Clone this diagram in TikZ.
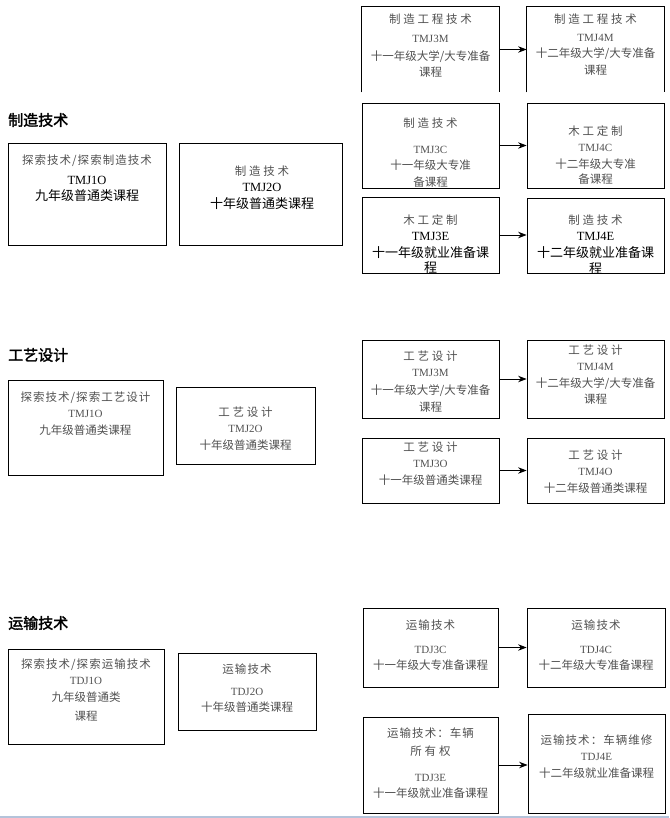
\documentclass[tikz,border=0pt]{standalone}
\usepackage{fontspec}
\usepackage{tikz}
\usetikzlibrary{arrows.meta}
\setmainfont{Noto Sans CJK SC}
\newfontfamily\codefont{Liberation Serif}
\newfontfamily\titlefont{Noto Sans CJK SC}[FakeBold=2]
\definecolor{textgray}{HTML}{505050}
\definecolor{edgeblue}{HTML}{B4C3DA}
\newcommand\spaced[1]{{\addfontfeature{LetterSpace=24}#1}}
\newcommand\semispaced[1]{{\addfontfeature{LetterSpace=9}#1}}
\newcommand\code[1]{{\codefont\fontsize{11}{16.5}\selectfont #1}}
\newcommand\bigcode[1]{{\color{black}\codefont\fontsize{12.5}{16.5}\selectfont #1}}
\newcommand\dark[1]{{\fontsize{13}{16.5}\selectfont\color{black}#1}}
\tikzset{
  course box/.style={draw=black,line width=.8pt,inner sep=0pt},
  box line/.style={draw=black,line width=.8pt},
  course text/.style={anchor=north,inner sep=0pt,align=center,text=textgray,
    font=\fontsize{11.5}{16.5}\selectfont},
  strand title/.style={anchor=west,inner sep=0pt,font=\titlefont\fontsize{15}{18}\selectfont},
  course arrow/.style={black,line width=.9pt,-{Stealth[length=8.5pt,width=6.5pt]}},
  page edge/.style={edgeblue,line width=1.2pt}
}
\begin{document}
\begin{tikzpicture}[x=1pt,y=-1pt]
  \useasboundingbox (0,0) rectangle (669,818);
  % manufacturing
  \node[strand title] (mfT) at (8,120) {制造技术};
  \node[course box,minimum width=158,minimum height=102] (mfA) at (87,194) {};
  \node[course text] (mfA-t) at (87,154.5) {\semispaced{探索技术/探索制造技术}\\[3.5pt] \bigcode{TMJ1O}\\ \dark{九年级普通类课程}};
  \node[course box,minimum width=163,minimum height=102] (mfB) at (260.5,194) {};
  \node[course text] (mfB-t) at (262,165.5) {\spaced{制造技术}\\ \bigcode{TMJ2O}\\ \dark{十年级普通类课程}};
  \node[course box,draw=none,minimum width=137,minimum height=85] (mf3m) at (430.5,49.5) {};
  \draw[box line] (mf3m.south west) |- (mf3m.north east) -- (mf3m.south east);
  \node[course text] (mf3m-t) at (430.5,13.5) {\spaced{制造工程技术}\\[2.5pt] \code{TMJ3M}\\[1.5pt] 十一年级大学/大专准备\\ 课程};
  \node[course box,draw=none,minimum width=137,minimum height=85] (mf4m) at (595.5,49.5) {};
  \draw[box line] (mf4m.south west) |- (mf4m.north east) -- (mf4m.south east);
  \node[course text] (mf4m-t) at (595.5,13.5) {\spaced{制造工程技术}\\[1.5pt] \code{TMJ4M}\\ 十二年级大学/大专准备\\ 课程};
  \node[course box,minimum width=137,minimum height=85] (mf3c) at (430.5,145.5) {};
  \node[course text] (mf3c-t) at (430.5,117.5) {\spaced{制造技术}\\[9.5pt] \code{TMJ3C}\\ 十一年级大专准\\ 备课程};
  \node[course box,minimum width=137,minimum height=85] (mf4c) at (595.5,145.5) {};
  \node[course text] (mf4c-t) at (595.5,125.5) {\spaced{木工定制}\\ \code{TMJ4C}\\ 十二年级大专准\\[-1.5pt] 备课程};
  \node[course box,minimum width=137,minimum height=76] (mf3e) at (430.5,235) {};
  \begin{scope}
    \clip (mf3e.south west) rectangle (mf3e.north east);
    \node[course text] (mf3e-t) at (430.5,214.5) {\spaced{木工定制}\\ \bigcode{TMJ3E}\\ \dark{十一年级就业准备课}\\[-1pt] \dark{程}};
  \end{scope}
  \node[course box,minimum width=137,minimum height=75] (mf4e) at (595.5,235.5) {};
  \begin{scope}
    \clip (mf4e.south west) rectangle (mf4e.north east);
    \node[course text] (mf4e-t) at (595.5,214.5) {\spaced{制造技术}\\ \bigcode{TMJ4E}\\ \dark{十二年级就业准备课}\\ \dark{程}};
  \end{scope}
  % craft design
  \node[strand title] (cdT) at (8,355) {工艺设计};
  \node[course box,minimum width=155,minimum height=95] (cdA) at (85.5,427.5) {};
  \node[course text] (cdA-t) at (85.5,391.5) {\semispaced{探索技术/探索工艺设计}\\ \code{TMJ1O}\\ 九年级普通类课程};
  \node[course box,minimum width=139,minimum height=77] (cdB) at (245.5,425.5) {};
  \node[course text] (cdB-t) at (245.5,406.5) {\spaced{工艺设计}\\ \code{TMJ2O}\\ 十年级普通类课程};
  \node[course box,minimum width=137,minimum height=78] (cd3m) at (430.5,379) {};
  \node[course text] (cd3m-t) at (430.5,350.5) {\spaced{工艺设计}\\ \code{TMJ3M}\\[1.5pt] 十一年级大学/大专准备\\ 课程};
  \node[course box,minimum width=137,minimum height=78] (cd4m) at (595.5,379) {};
  \node[course text] (cd4m-t) at (595.5,344.5) {\spaced{工艺设计}\\ \code{TMJ4M}\\ 十二年级大学/大专准备\\ 课程};
  \node[course box,minimum width=137,minimum height=65] (cd3o) at (430.5,470.5) {};
  \node[course text] (cd3o-t) at (430.5,441.5) {\spaced{工艺设计}\\ \code{TMJ3O}\\ 十一年级普通类课程};
  \node[course box,minimum width=137,minimum height=65] (cd4o) at (595.5,470.5) {};
  \node[course text] (cd4o-t) at (595.5,449.5) {\spaced{工艺设计}\\ \code{TMJ4O}\\ 十二年级普通类课程};
  % transportation
  \node[strand title] (ttT) at (8,623) {运输技术};
  \node[course box,minimum width=156,minimum height=95] (ttA) at (86,696.5) {};
  \node[course text] (ttA-t) at (86,658.5) {\semispaced{探索技术/探索运输技术}\\ \code{TDJ1O}\\ 九年级普通类\\[2.5pt] 课程};
  \node[course box,minimum width=138,minimum height=77] (ttB) at (247,691.5) {};
  \node[course text] (ttB-t) at (247,663.5) {\semispaced{运输技术}\\[5.5pt] \code{TDJ2O}\\ 十年级普通类课程};
  \node[course box,minimum width=135,minimum height=79] (tt3c) at (430.5,647.5) {};
  \node[course text] (tt3c-t) at (430.5,619.5) {\semispaced{运输技术}\\[7.5pt] \code{TDJ3C}\\ 十一年级大专准备课程};
  \node[course box,minimum width=138,minimum height=79] (tt4c) at (596,647.5) {};
  \node[course text] (tt4c-t) at (596,619.5) {\semispaced{运输技术}\\[7.5pt] \code{TDJ4C}\\ 十二年级大专准备课程};
  \node[course box,minimum width=135,minimum height=96] (tt3e) at (430.5,765) {};
  \node[course text] (tt3e-t) at (430.5,727.5) {\semispaced{运输技术：车辆}\\[1.5pt] \spaced{所有权}\\[9.5pt] \code{TDJ3E}\\ 十一年级就业准备课程};
  \node[course box,minimum width=137,minimum height=99] (tt4e) at (596.5,763.5) {};
  \node[course text] (tt4e-t) at (596.5,734.5) {\semispaced{运输技术：车辆维修}\\ \code{TDJ4E}\\ 十二年级就业准备课程};
  % pathway arrows
  \foreach \a/\b in {mf3m/mf4m,mf3c/mf4c,mf3e/mf4e,cd3m/cd4m,cd3o/cd4o,tt3c/tt4c,tt3e/tt4e}
    \draw[course arrow] (\a.east) -- (\a.east -| \b.west);
  \draw[page edge] (0,817) -- (669,817);
\end{tikzpicture}
\end{document}
